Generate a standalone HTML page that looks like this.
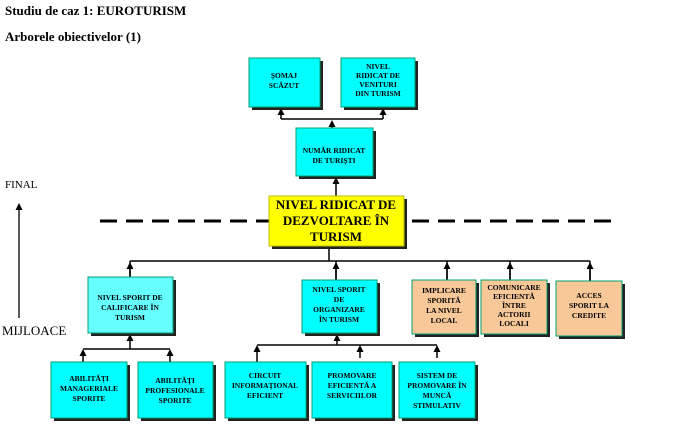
<!DOCTYPE html>
<html><head><meta charset="utf-8"><style>
body{margin:0;background:#fff;width:680px;height:437px;overflow:hidden}
svg{display:block}
text{font-family:"Liberation Serif",serif;font-weight:bold;fill:#000}
</style></head><body>
<svg width="680" height="437" viewBox="0 0 680 437">
<defs><marker id="a" markerUnits="userSpaceOnUse" markerWidth="7" markerHeight="7" refX="4" refY="3.5" orient="auto"><path d="M0,0 L7,3.5 L0,7 z" fill="#000"/></marker></defs>
<text x="5" y="15" font-size="13">Studiu de caz 1: EUROTURISM</text>
<text x="5" y="41" font-size="13">Arborele obiectivelor (1)</text>
<text x="5" y="188" font-size="11" style="font-weight:normal">FINAL</text>
<text x="2" y="335" font-size="13" style="font-weight:normal">MIJLOACE</text>
<line x1="19" y1="318" x2="19" y2="206" stroke="#000" stroke-width="1.3" marker-end="url(#a)"/>
<line x1="100" y1="221" x2="615" y2="221" stroke="#000" stroke-width="3" stroke-dasharray="17,9"/>
<g stroke="#000" stroke-width="1.5" fill="none">
<line x1="281" y1="119" x2="383" y2="119"/>
<line x1="281" y1="119" x2="281" y2="111" marker-end="url(#a)"/>
<line x1="383" y1="119" x2="383" y2="111" marker-end="url(#a)"/>
<line x1="332" y1="128" x2="332" y2="123" marker-end="url(#a)"/>
<line x1="336" y1="196" x2="336" y2="180" marker-end="url(#a)"/>
<line x1="329" y1="246" x2="329" y2="261"/>
<line x1="130" y1="261" x2="590" y2="261"/>
<line x1="130" y1="277" x2="130" y2="265" marker-end="url(#a)"/>
<line x1="130" y1="261" x2="130" y2="277"/>
<line x1="336" y1="261" x2="336" y2="280"/><line x1="336" y1="280" x2="336" y2="265" marker-end="url(#a)"/>
<line x1="447" y1="261" x2="447" y2="280"/><line x1="447" y1="280" x2="447" y2="265" marker-end="url(#a)"/>
<line x1="510" y1="261" x2="510" y2="280"/><line x1="510" y1="280" x2="510" y2="265" marker-end="url(#a)"/>
<line x1="590" y1="261" x2="590" y2="281"/><line x1="590" y1="281" x2="590" y2="265" marker-end="url(#a)"/>
<line x1="83" y1="349" x2="170" y2="349"/>
<line x1="130" y1="349" x2="130" y2="337" marker-end="url(#a)"/>
<line x1="83" y1="362" x2="83" y2="352" marker-end="url(#a)"/>
<line x1="170" y1="362" x2="170" y2="352" marker-end="url(#a)"/>
<line x1="257" y1="345" x2="437" y2="345"/>
<line x1="337" y1="345" x2="337" y2="337" marker-end="url(#a)"/>
<line x1="257" y1="362" x2="257" y2="348" marker-end="url(#a)"/>
<line x1="360" y1="358" x2="360" y2="348" marker-end="url(#a)"/>
<line x1="437" y1="358" x2="437" y2="348" marker-end="url(#a)"/>
</g>
<g stroke="#00a070" stroke-width="1">
<rect x="252" y="61" width="71" height="49" fill="#222" stroke="none"/><rect x="249" y="58" width="71" height="49" fill="#00ffff"/>
<rect x="344" y="61" width="74" height="49" fill="#222" stroke="none"/><rect x="341" y="58" width="74" height="49" fill="#00ffff"/>
<rect x="299" y="131" width="77" height="48" fill="#222" stroke="none"/><rect x="296" y="128" width="77" height="48" fill="#00ffff"/>
<rect x="272" y="199" width="135" height="50" fill="#222" stroke="none"/><rect x="269" y="196" width="135" height="50" fill="#ffff00" stroke="#c0c000"/>
<rect x="91" y="280" width="85" height="56" fill="#222" stroke="none"/><rect x="88" y="277" width="85" height="56" fill="#66ffff"/>
<rect x="305" y="283" width="75" height="53" fill="#222" stroke="none"/><rect x="302" y="280" width="75" height="53" fill="#00ffff"/>
<rect x="415" y="283" width="64" height="54" fill="#222" stroke="none"/><rect x="412" y="280" width="64" height="54" fill="#f8c898"/>
<rect x="484" y="283" width="66" height="54" fill="#222" stroke="none"/><rect x="481" y="280" width="66" height="54" fill="#f8c898"/>
<rect x="559" y="284" width="66" height="55" fill="#222" stroke="none"/><rect x="556" y="281" width="66" height="55" fill="#f8c898"/>
<rect x="54" y="365" width="76" height="56" fill="#222" stroke="none"/><rect x="51" y="362" width="76" height="56" fill="#00ffff"/>
<rect x="141" y="365" width="75" height="56" fill="#222" stroke="none"/><rect x="138" y="362" width="75" height="56" fill="#00ffff"/>
<rect x="228" y="365" width="81" height="56" fill="#222" stroke="none"/><rect x="225" y="362" width="81" height="56" fill="#00ffff"/>
<rect x="315" y="365" width="80" height="56" fill="#222" stroke="none"/><rect x="312" y="362" width="80" height="56" fill="#00ffff"/>
<rect x="402" y="365" width="76" height="56" fill="#222" stroke="none"/><rect x="399" y="362" width="76" height="56" fill="#00ffff"/>
</g>
<g font-size="7.5" text-anchor="middle">
<text x="284" y="78">ŞOMAJ</text><text x="284" y="88">SCĂZUT</text>
<text x="378" y="69">NIVEL</text><text x="378" y="78">RIDICAT DE</text><text x="378" y="87">VENITURI</text><text x="378" y="96">DIN TURISM</text>
<text x="334" y="153">NUMĂR RIDICAT</text><text x="334" y="163">DE TURIŞTI</text>
<text x="130" y="300">NIVEL SPORIT DE</text><text x="130" y="310">CALIFICARE ÎN</text><text x="130" y="320">TURISM</text>
<text x="339" y="292">NIVEL SPORIT</text><text x="339" y="302">DE</text><text x="339" y="312">ORGANIZARE</text><text x="339" y="322">ÎN TURISM</text>
<text x="444" y="293">IMPLICARE</text><text x="444" y="303">SPORITĂ</text><text x="444" y="313">LA NIVEL</text><text x="444" y="323">LOCAL</text>
<text x="514" y="290">COMUNICARE</text><text x="514" y="299">EFICIENTĂ</text><text x="514" y="308">ÎNTRE</text><text x="514" y="317">ACTORII</text><text x="514" y="326">LOCALI</text>
<text x="589" y="298">ACCES</text><text x="589" y="308">SPORIT LA</text><text x="589" y="318">CREDITE</text>
<text x="89" y="381">ABILITĂŢI</text><text x="89" y="391">MANAGERIALE</text><text x="89" y="401">SPORITE</text>
<text x="175" y="383">ABILITĂŢI</text><text x="175" y="393">PROFESIONALE</text><text x="175" y="403">SPORITE</text>
<text x="265" y="378">CIRCUIT</text><text x="265" y="388">INFORMAŢIONAL</text><text x="265" y="398">EFICIENT</text>
<text x="352" y="378">PROMOVARE</text><text x="352" y="388">EFICIENTĂ A</text><text x="352" y="398">SERVICIILOR</text>
<text x="437" y="378">SISTEM DE</text><text x="437" y="388">PROMOVARE ÎN</text><text x="437" y="398">MUNCĂ</text><text x="437" y="408">STIMULATIV</text>
</g>
<g font-size="13" text-anchor="middle">
<text x="336" y="209">NIVEL RIDICAT DE</text>
<text x="336" y="225">DEZVOLTARE ÎN</text>
<text x="336" y="241">TURISM</text>
</g>
</svg>
</body></html>
